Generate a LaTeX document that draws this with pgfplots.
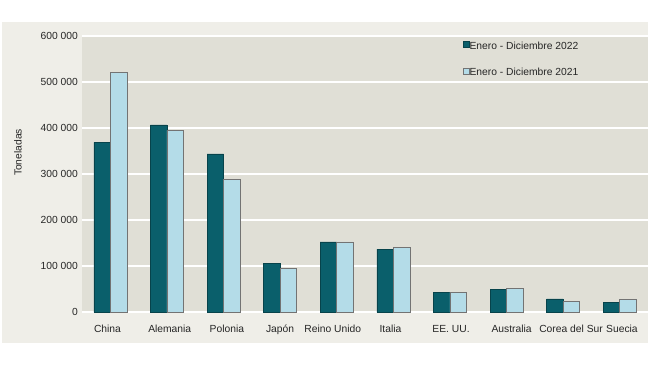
\documentclass[border=0pt]{standalone}
\usepackage{pgfplots}
\pgfplotsset{compat=1.18}
\usepackage{fontspec}
\setmainfont{Liberation Sans}
\definecolor{darkteal}{HTML}{0A5F6B}
\definecolor{lightblue}{HTML}{B4DCE8}
\definecolor{plotbg}{HTML}{E0DFD6}
\definecolor{panelbg}{HTML}{EFEEE8}
\definecolor{txt}{HTML}{262626}
\begin{document}
\begin{tikzpicture}[x=1pt,y=1pt]
\fill[white,use as bounding box] (-82,-53.7) rectangle (568,312.3);
\fill[panelbg] (-80,-30.7) rectangle (566,290.3);
\begin{axis}[
  at={(0,0)}, anchor=south west,
  scale only axis, width=566pt, height=276.3pt,
  xmin=-0.5, xmax=9.5, ymin=0, ymax=600000,
  ybar=0pt, bar width=16.5pt,
  axis background/.style={fill=plotbg},
  axis line style={draw=none},
  tick style={draw=none},
  ymajorgrids, grid style={white, line width=1.6pt},
  scaled y ticks=false,
  ytick={0,100000,200000,300000,400000,500000,600000},
  yticklabels={0,100 000,200 000,300 000,400 000,500 000,600 000},
  xtick={-0.05,1.05,2.06,3,3.93,4.95,6.02,7.09,8.14,9.04},
  xticklabels={China,Alemania,Polonia,Japón,Reino Unido,Italia,EE. UU.,Australia,Corea del Sur,Suecia},
  tick label style={font=\fontsize{10.3}{12}\selectfont, text=txt},
  xticklabel style={anchor=north, inner sep=0pt, yshift=-8.4pt, text height=7.4pt, text depth=2pt},
  yticklabel style={anchor=east, inner sep=0pt, xshift=-4pt},
  legend style={at={(rel axis cs:0.672,0.982)}, anchor=north west, draw=none, fill=none,
    inner sep=0pt, row sep=15.5pt, column sep=0pt,
    font=\fontsize{10.3}{12}\selectfont, text=txt,
    nodes={inner sep=0.5pt, text height=7.4pt, text depth=2pt}},
  legend cell align=left,
  legend image code/.code={\draw[#1,/tikz/.cd] (0pt,-0.5pt) rectangle (6pt,5.5pt);},
]
\addplot[fill=darkteal, draw=darkteal!70!black, line width=0.4pt] coordinates {
  (0,369000) (1,407000) (2,344000) (3,107000) (4,153000)
  (5,137000) (6,44000) (7,50500) (8,29000) (9,21700)};
\addlegendentry{Enero - Diciembre 2022}
\addplot[fill=lightblue, draw=black!55, line width=0.45pt] coordinates {
  (0,521000) (1,395000) (2,289000) (3,95500) (4,153000)
  (5,141000) (6,44000) (7,52000) (8,24500) (9,28000)};
\addlegendentry{Enero - Diciembre 2021}
\end{axis}
\node[rotate=90, font=\fontsize{10.3}{12}\selectfont, text=txt] at (-64,159.8) {Toneladas};
\end{tikzpicture}
\end{document}
